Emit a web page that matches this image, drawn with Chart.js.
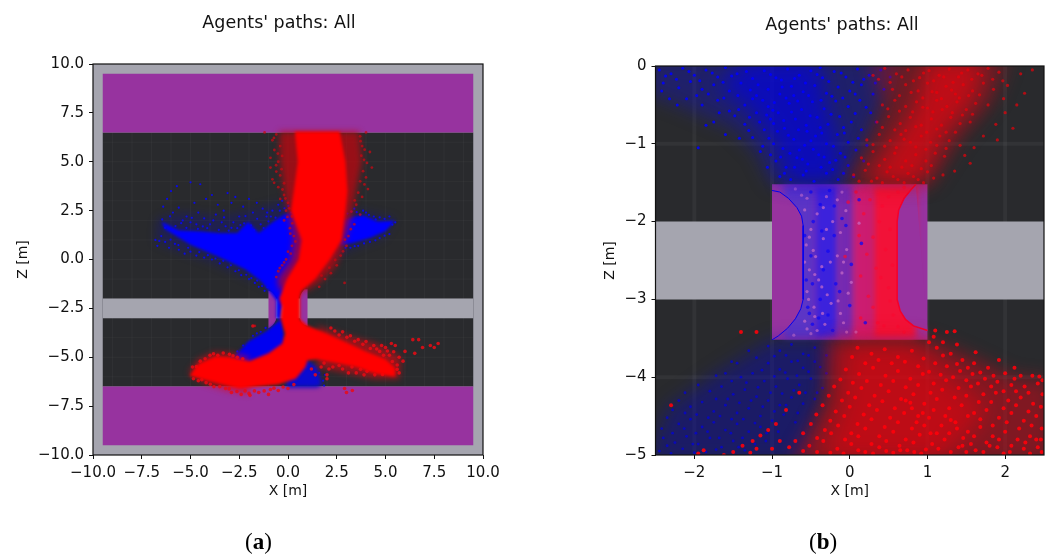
<!DOCTYPE html>
<html>
<head>
<meta charset="utf-8">
<title>Agents' paths</title>
<script src="https://cdn.jsdelivr.net/npm/chart.js@4"></script>
<style>
  html, body { margin: 0; padding: 0; background: #fff; }
  #page { position: relative; width: 1049px; height: 557px; overflow: hidden; }
  canvas { position: absolute; top: 0; }
  #chartA { left: 0; }
  #chartB { left: 525px; }
  .caption { position: absolute; top: 529px; font: 23px "Liberation Serif", serif; color: #000; }
  .caption b { font-weight: bold; }
</style>
</head>
<body>
<div id="page">
  <canvas id="chartA" width="558" height="557"></canvas>
  <canvas id="chartB" width="634" height="557"></canvas>
  <div class="caption" style="left:245px">(<b>a</b>)</div>
  <div class="caption" style="left:809px">(<b>b</b>)</div>
</div>
<script>
// Ticks
const xTicksA = [-10, -7.5, -5, -2.5, 0, 2.5, 5, 7.5, 10];
const zTicksA = [-10, -7.5, -5, -2.5, 0, 2.5, 5, 7.5, 10];
const tickLabelsA = ['\u221210.0', '\u22127.5', '\u22125.0', '\u22122.5', '0.0', '2.5', '5.0', '7.5', '10.0'];
const xTicksB = [-2, -1, 0, 1, 2];
const xLabelsB = ['\u22122', '\u22121', '0', '1', '2'];
const zTicksB = [-5, -4, -3, -2, -1, 0];
const zLabelsB = ['\u22125', '\u22124', '\u22123', '\u22122', '\u22121', '0'];

// Map geometry, metres: [x0, x1, z0, z1]
const floorA = [-9.5, 9.5, -6.5, 6.5];
const corridor = [-9.5, 9.5, -3, -2];
const goalTop = [-9.5, 9.5, 6.5, 9.5];
const goalBottom = [-9.5, 9.5, -9.5, -6.5];
const doorBox = [-1, 1, -3.52, -1.52];
const doorLeft = [[-1,-1.6],[-0.9,-1.62],[-0.79,-1.7],[-0.68,-1.82],[-0.62,-1.93],[-0.6,-2.05],[-0.6,-3],[-0.63,-3.12],[-0.7,-3.25],[-0.8,-3.37],[-0.92,-3.47],[-1,-3.52]];
const doorRight = [[0.85,-1.52],[0.78,-1.6],[0.7,-1.7],[0.63,-1.85],[0.61,-2],[0.61,-3],[0.65,-3.15],[0.72,-3.26],[0.82,-3.34],[1,-3.4],[1,-1.52]];
const gridA = [-9, -8, -7, -6, -5, -4, -3, -2, -1, 0, 1, 2, 3, 4, 5, 6, 7, 8, 9];
const gridXB = [-2, -1, 1, 2];
const gridZB = [-1, -4];

// Panel (a): dense bodies of the agents' tracks
const blueWingLeft = [[-6.5,1.95],[-5.6,1.5],[-4.5,1.45],[-3.5,1.35],[-2.6,1.35],[-2.05,1.95],[-1.5,1.35],[-0.8,1.9],[-0.2,2.3],[0.5,2.4],[1,1],[0.6,0],[0,-1.4],[-0.3,-2.6],[-0.35,-3.1],[-0.6,-3],[-0.6,-2.1],[-0.85,-1.75],[-1.4,-1.1],[-2.2,-0.5],[-3.6,0.15],[-5,0.75],[-6.3,1.55]];
const blueWingRight = [[2.7,2],[3.4,2.2],[3.9,2.25],[4.6,1.95],[5.5,2],[5,1.45],[4.2,1.1],[3.3,0.85],[2.6,0.7]];
const blueWingFuzz = [[-6.7,2.1],[-5.5,2.4],[-3.5,2.2],[-2,2.5],[-0.5,2.9],[1,3],[3,2.6],[3.6,2.5],[5.5,2.1],[4.9,1.1],[3.7,0.7],[2,0],[0,-2],[-1.2,-1.3],[-2.4,-0.8],[-4,-0.1],[-5.5,0.4],[-6.8,0.9]];
const blueWedge = [[-0.6,-3.25],[-0.3,-3],[-0.15,-4.4],[-1,-5],[-2.7,-5.6],[-2.7,-4.9],[-2.05,-4.2],[-1.1,-3.65]];
const blueBlob = [[0,-5.4],[0.9,-5.1],[1.5,-5.5],[1.75,-6.4],[1.5,-6.55],[-0.1,-6.55]];
const redHalo = [[-0.45,6.55],[3.65,6.55],[3.8,5],[3.5,3.5],[3.2,2],[2.8,0.5],[2.4,-0.4],[1.6,-1.2],[0.95,-1.6],[-0.4,-1.6],[-0.55,-1],[0.15,0],[0.3,1],[0,2.5],[-0.2,3.5],[-0.4,5]];
const redFanHaloLeft = [[-5.1,-5.8],[-4.6,-5.1],[-3.8,-4.75],[-2.8,-4.8],[-2,-5],[-2,-6.9],[-3.2,-6.7],[-4.4,-6.3]];
const redFanHaloRight = [[1.5,-3.4],[3,-3.9],[4.5,-4.3],[5.8,-5],[5.7,-6.1],[4.4,-6.1],[3,-5.8],[1.5,-5.5]];
const redCore = [[0.35,6.55],[2.65,6.55],[2.95,5],[3.05,3.5],[2.95,2.5],[2.75,1],[2.15,0],[1.4,-1],[0.7,-1.6],[0.62,-2],[0.62,-3.05],[1,-3.38],[2,-3.8],[3,-4.25],[4,-4.7],[5,-5.1],[5.5,-5.55],[5.5,-6],[4.5,-5.85],[3.5,-5.5],[2.5,-5.3],[1.5,-5.1],[1,-5.15],[0.9,-5.5],[0.4,-6.1],[-0.5,-6.4],[-1.5,-6.5],[-2.5,-6.6],[-3.5,-6.35],[-5.05,-5.95],[-4.6,-5.35],[-3.7,-4.95],[-3,-5],[-2,-5.2],[-1,-4.8],[-0.3,-4.3],[-0.15,-3.8],[-0.38,-3],[-0.32,-2.4],[-0.45,-2],[-0.25,-1.5],[-0.05,-1],[0.55,0],[0.7,1],[0.15,2.5],[0.3,3.5],[0.5,5]];

// Panel (a): loose points around those bodies
const blueLooseA = [[-6,3.5],[-5.7,3.75],[-5,3.95],[-4.5,3.85],[-6.2,3.1],[-6.4,2.7],[-5.9,2.4],[-5.6,2.65],[-5.2,2.2],[-4.8,2.9],[-4.6,2.4],[-4.2,3.1],[-3.9,3.3],[-3.6,2.8],[-3.3,2.5],[-3.1,3.4],[-2.9,2.9],[-2.7,3.2],[-2.5,2.2],[-2.3,2.7],[-2,3.1],[-1.8,2.4],[-1.6,2.9],[-1.3,2.6],[-1.1,2.2],[-0.8,2.5],[-0.5,2.8],[-0.3,3],[-5.4,2],[-5,1.9],[-4.7,1.8],[-4.3,2.1],[-4,1.8],[-3.7,2.3],[-3.4,1.9],[-3.2,1.7],[-2.8,1.9],[-2.6,1.6],[-2.25,1.85],[-1.9,1.75],[-1.4,1.8],[-1,1.95],[-6.8,1],[-6.7,0.7],[-6.5,1.2],[-6.3,0.9],[-6.1,0.6],[-5.8,0.8],[-5.6,0.5],[-5.3,0.3],[-5,0.4],[-4.7,0.2],[-4.3,0.1],[-3.9,0],[-3.5,-0.2],[-3.1,-0.4],[-2.7,-0.6],[-2.4,-0.8],[-2,-1],[-1.7,-1.2],[-1.5,-1.4],[-1.2,-1.6],[3.4,2.6],[3.7,2.3],[4,2.4],[4.4,2.2],[4.7,2.15],[5.2,2.2],[5.5,1.9],[5.2,1.3],[4.7,1.1],[4.2,0.9],[3.6,0.7],[3.2,0.6],[-0.7,-3.6],[-1.4,-3.7],[-1.8,-3.9],[-2.3,-4.4],[-2.6,-4.7],[-2.9,-5],[1.9,-5.9],[1.8,-6.2],[1.6,-5.8],[1.85,-6.45],[-6.45,2.05],[-6.3,1.62],[-6.05,2.21],[-5.77,1.71],[-5.48,1.86],[-5.21,1.62],[-4.93,2.13],[-4.62,1.57],[-4.37,1.69],[-4.14,1.6],[-3.83,2],[-3.55,1.52],[-3.28,2.15],[-3.04,1.48],[-2.9,1.62],[-2.44,1.76],[-2.18,2.22],[-1.75,1.5],[-1.58,2.08],[-1.25,1.61],[-1.07,2.4],[-0.88,2.2],[-0.64,2.14],[-0.42,2.5],[-0.18,2.62],[0.02,2.74],[0.15,2.4],[-6.6,0.95],[-6.02,1.02],[-5.62,0.74],[-5.12,0.6],[-4.55,0.38],[-4.11,0.22],[-3.72,0.05],[-3.32,-0.07],[-2.93,-0.3],[-2.52,-0.55],[-2.14,-0.78],[-1.88,-0.95],[-1.58,-1.08],[-1.33,-1.36],[-1.05,-1.42],[3.05,2.35],[3.25,2.45],[3.52,2.42],[3.85,2.5],[4.15,2.28],[4.5,2.05],[4.95,2.08],[5.35,1.78],[4.95,1.22],[4.48,0.98],[3.9,0.82],[3.42,0.68],[2.95,0.6],[-2.5,-4.95],[-2.1,-4.5],[-1.6,-3.78],[-1.15,-3.5],[-2.85,-5.2]];
const redHaloA = [[-0.6,6.4],[-0.8,6.1],[-1.2,6.5],[-0.7,5.6],[-0.4,5.8],[-0.9,5.2],[-0.5,5],[-0.3,5.3],[-0.9,4.7],[-0.6,4.5],[-0.8,4.1],[-0.4,4.3],[-0.5,3.7],[-0.2,3.9],[-0.2,3.3],[-0.4,3.1],[0,2.9],[-0.1,2.5],[0.2,2.2],[-0.2,2],[0.1,1.6],[0.3,1.2],[0.2,0.7],[0,0.4],[-0.1,0],[-0.3,-0.3],[-0.5,-0.6],[-0.6,-0.9],[3.7,6.3],[4,6.5],[3.8,5.8],[4.2,5.5],[3.9,5.1],[4.3,4.7],[4,4.2],[3.7,4],[4.1,3.6],[3.8,3.2],[3.5,2.8],[3.7,2.3],[3.4,1.8],[3.1,1.2],[3,0.7],[2.7,0.2],[2.5,-0.3],[2.2,-0.7],[1.9,-1],[1.6,-1.4],[2.9,-1.2],[-1.7,-3.4],[-0.72,6.22],[-0.52,5.42],[-0.61,4.82],[-0.33,4.62],[-0.71,3.92],[-0.28,3.58],[-0.13,3.12],[0.06,2.62],[-0.03,2.18],[0.22,1.85],[0.12,1.32],[0.38,0.92],[0.14,0.3],[-0.2,-0.15],[-0.42,-0.44],[3.72,6.05],[3.93,5.62],[3.76,5.31],[4.05,4.94],[3.85,4.52],[3.92,3.84],[3.6,3.42],[3.42,3.02],[3.25,2.45],[3.22,1.55],[2.92,1.02],[2.82,0.42],[2.42,-0.02],[2.12,-0.42],[1.72,-0.82]];
const redLooseA = [[7.7,-4.3],[7.3,-4.4],[7.5,-4.5],[6.7,-4.1],[6.4,-4.1],[6.9,-4.5],[6,-4.7],[6.5,-4.8],[5.9,-5.2],[5.7,-5],[5.5,-4.4],[5.3,-4.3],[5,-4.5],[4.8,-4.4],[4.4,-4.4],[4,-4.2],[3.6,-4.1],[3.2,-3.9],[2.8,-3.7],[2.2,-3.5],[5.6,-5.4],[5.7,-5.8],[5.2,-4.9],[4.7,-4.7],[4.2,-5.6],[3.9,-5.9],[3.5,-5.8],[3.1,-5.8],[2.8,-5.6],[2.3,-5.5],[2,-5.9],[2.1,-5.6],[1.7,-5.5],[1.2,-5.6],[1.4,-5.9],[2,-6.1],[2.9,-6.6],[3.3,-6.7],[3,-6.8],[-4.9,-5.5],[-4.5,-5.2],[-4,-4.9],[-3.6,-4.9],[-3,-4.85],[-2.6,-5],[-4.6,-6.2],[-4.2,-6.3],[-3.8,-6.5],[-3.2,-6.6],[-2.9,-6.8],[-2.4,-6.9],[-2,-6.85],[-1.5,-6.8],[-1,-6.9],[-0.5,-6.7],[0,-6.6],[0.3,-6.4],[-0.9,-6.65],[-1.8,-3.4],[5.42,-4.72],[5.1,-4.68],[4.9,-4.9],[4.55,-4.58],[4.22,-4.55],[3.84,-4.34],[3.42,-4.18],[3.02,-3.98],[2.62,-3.86],[2.4,-3.66],[5.35,-5.22],[5.6,-5.62],[4.85,-5.88],[4.45,-5.9],[4.05,-5.72],[3.72,-5.62],[3.28,-5.5],[2.62,-5.42],[1.85,-5.3],[-4.7,-5.48],[-4.25,-5.08],[-3.82,-4.82],[-3.32,-4.78],[-2.82,-4.92],[-2.32,-5.08],[-4.85,-6.1],[-4.42,-6.15],[-3.98,-6.38],[-3.5,-6.5],[-3.02,-6.62],[-2.62,-6.75],[-2.2,-6.72],[-1.72,-6.72],[-1.22,-6.72],[-0.72,-6.58],[-0.25,-6.52],[-1.95,-6.95]];

// Panel (b): density of tracks in the zoomed view
const blueCloudTop = [[-2.6,0.1],[0.6,0.1],[0.45,-0.4],[0.2,-1],[-0.05,-1.52],[-1,-1.52],[-1.2,-1.1],[-1.5,-0.8],[-2.2,-0.5],[-2.6,-0.35]];
const blueCloudTopCore = [[-1.3,0.1],[-0.4,0.1],[-0.3,-0.5],[-0.15,-1],[-0.15,-1.52],[-0.8,-1.52],[-0.95,-1],[-1.3,-0.55],[-1.7,-0.25]];
const redCloudTop = [[0.25,0.1],[2.05,0.1],[1.85,-0.45],[1.45,-0.9],[1.05,-1.52],[-0.05,-1.52],[0.25,-1],[0.45,-0.5]];
const redCloudTopCore = [[1,0.1],[1.75,0.1],[1.6,-0.45],[1.2,-0.9],[0.9,-1.52],[0.2,-1.52],[0.55,-1],[0.85,-0.5]];
const blueCloudBottom = [[-0.2,-3.52],[-1,-3.52],[-1.7,-3.95],[-2.35,-4.4],[-2.6,-5.1],[-0.6,-5.1],[-0.35,-4.2]];
const redCloudBottom = [[-0.3,-3.52],[1,-3.52],[1.5,-3.72],[2.1,-4],[2.6,-4.05],[2.6,-5.1],[-0.75,-5.1],[-0.3,-4.3]];
const redCloudBottomCore = [[-0.1,-3.55],[0.8,-3.55],[1.3,-4],[1.8,-4.4],[1.2,-5.1],[-0.4,-5.1],[-0.1,-4.3]];

// Panel (b): colour across the door, left to right [x0, x1]
const doorBands = [[-0.85,-0.45],[-0.45,-0.15],[-0.15,0.05],[0.05,0.3],[0.3,0.85]];

// Panel (b): individual dots
const blueTopB = [[-2.45,-0.05],[-2.3,-0.1],[-2.15,-0.03],[-2,-0.12],[-1.85,-0.05],[-1.7,-0.14],[-1.6,-0.02],[-1.45,-0.1],[-2.4,-0.22],[-2.2,-0.28],[-2.05,-0.2],[-1.9,-0.3],[-1.75,-0.24],[-1.55,-0.32],[-1.4,-0.22],[-1.25,-0.16],[-1.1,-0.06],[-0.95,-0.15],[-0.8,-0.04],[-0.65,-0.12],[-0.5,-0.06],[-0.35,-0.15],[-0.2,-0.07],[-0.05,-0.14],[0.1,-0.04],[0.25,-0.12],[0.4,-0.05],[-2.1,-0.42],[-1.9,-0.5],[-1.7,-0.44],[-1.55,-0.58],[-1.35,-0.5],[-1.2,-0.38],[-1.05,-0.3],[-0.9,-0.36],[-0.75,-0.26],[-0.6,-0.33],[-0.45,-0.25],[-0.3,-0.35],[-0.15,-0.27],[0,-0.32],[0.15,-0.24],[0.3,-0.36],[-1.85,-0.76],[-1.6,-0.88],[-1.95,-1.05],[-1.35,-0.75],[-1.2,-0.6],[-1.05,-0.52],[-0.92,-0.6],[-0.78,-0.48],[-0.62,-0.56],[-0.48,-0.46],[-0.33,-0.55],[-0.18,-0.45],[-0.02,-0.52],[0.13,-0.44],[0.27,-0.6],[-1.25,-0.92],[-1.1,-0.82],[-0.98,-0.74],[-0.84,-0.8],[-0.7,-0.68],[-0.56,-0.76],[-0.42,-0.66],[-0.28,-0.75],[-0.13,-0.65],[0.02,-0.72],[0.15,-0.82],[-1.15,-1.1],[-0.98,-1],[-0.86,-1.06],[-0.72,-0.94],[-0.58,-1.02],[-0.44,-0.9],[-0.3,-1],[-0.16,-0.88],[-0.02,-0.98],[0.08,-1.08],[-0.95,-1.22],[-0.82,-1.3],[-0.68,-1.18],[-0.54,-1.26],[-0.4,-1.14],[-0.26,-1.24],[-0.12,-1.12],[-0.02,-1.28],[-0.9,-1.42],[-0.76,-1.46],[-0.6,-1.4],[-0.46,-1.48],[-0.3,-1.38],[-0.15,-1.46],[-1.25,-0.42],[-1.02,-0.68],[-0.88,-0.18],[-0.72,-0.38],[-0.55,-0.84],[-1.48,-0.64],[-2.32,-0.42],[-2.42,-0.32],[-1.68,-0.6],[-0.38,-0.02],[-2.37,-0.13],[-2.23,-0.17],[-2.07,-0.07],[-1.93,-0.19],[-1.77,-0.09],[-1.63,-0.21],[-1.52,-0.13],[-1.33,-0.07],[-1.18,-0.24],[-1.02,-0.11],[-0.87,-0.27],[-0.71,-0.16],[-0.57,-0.22],[-0.42,-0.11],[-0.27,-0.2],[-0.11,-0.09],[0.04,-0.21],[0.18,-0.17],[0.33,-0.22],[-1.97,-0.38],[-1.82,-0.36],[-1.62,-0.41],[-1.44,-0.38],[-1.28,-0.31],[-1.12,-0.44],[-0.97,-0.47],[-0.82,-0.41],[-0.67,-0.45],[-0.53,-0.38],[-0.37,-0.44],[-0.23,-0.39],[-0.09,-0.41],[0.07,-0.36],[0.21,-0.53],[-1.43,-0.56],[-1.29,-0.66],[-1.16,-0.72],[-1.07,-0.63],[-0.99,-0.57],[-0.85,-0.7],[-0.75,-0.59],[-0.66,-0.82],[-0.51,-0.64],[-0.38,-0.79],[-0.24,-0.62],[-0.08,-0.79],[0.07,-0.61],[-1.3,-0.83],[-1.04,-0.93],[-0.93,-0.84],[-0.79,-0.89],[-0.65,-1.08],[-0.5,-0.96],[-0.36,-0.86],[-0.21,-1.03],[-0.07,-0.86],[0.11,-0.93],[-1.02,-1.14],[-0.89,-1.17],[-0.77,-1.12],[-0.61,-1.2],[-0.47,-1.07],[-0.33,-1.17],[-0.18,-1.21],[-0.06,-1.17],[-0.84,-1.38],[-0.71,-1.3],[-0.56,-1.35],[-0.37,-1.3],[-0.22,-1.33],[-0.08,-1.38],[-1.06,-1.3],[-1.12,-1.03],[-1.42,-0.93],[-1.75,-0.72],[-2.22,-0.5],[0.34,-0.72],[0.22,-1.02],[0.18,-1.22],[0.05,-1.42],[0.44,-0.3],[0.52,-0.14]];
const redTopB = [[0.3,-0.12],[0.45,-0.03],[0.6,-0.1],[0.75,-0.05],[0.9,-0.15],[1.02,-0.06],[1.15,-0.12],[1.28,-0.04],[1.4,-0.14],[1.52,-0.05],[1.65,-0.1],[1.78,-0.03],[1.92,-0.08],[2.2,-0.1],[2.35,-0.05],[0.55,-0.3],[0.72,-0.24],[0.88,-0.32],[1,-0.22],[1.12,-0.34],[1.24,-0.26],[1.36,-0.36],[1.46,-0.24],[1.58,-0.32],[1.72,-0.22],[1.85,-0.3],[2.25,-0.35],[0.42,-0.5],[0.58,-0.44],[0.72,-0.52],[0.86,-0.46],[1,-0.54],[1.12,-0.44],[1.25,-0.52],[1.38,-0.46],[1.5,-0.56],[1.62,-0.48],[1.78,-0.5],[0.35,-0.72],[0.5,-0.65],[0.65,-0.74],[0.78,-0.66],[0.92,-0.76],[1.05,-0.68],[1.18,-0.76],[1.3,-0.66],[1.42,-0.74],[1.55,-0.72],[0.22,-0.95],[0.38,-0.88],[0.52,-0.96],[0.66,-0.88],[0.78,-0.98],[0.92,-0.9],[1.04,-0.98],[1.16,-0.9],[1.28,-0.96],[1.42,-1.02],[0.15,-1.18],[0.3,-1.1],[0.45,-1.2],[0.58,-1.12],[0.72,-1.22],[0.85,-1.14],[0.98,-1.22],[1.1,-1.12],[1.22,-1.16],[0.05,-1.4],[0.2,-1.34],[0.35,-1.44],[0.48,-1.36],[0.62,-1.46],[0.75,-1.38],[0.88,-1.46],[1,-1.36],[1.08,-1.44],[1.2,-1.4],[2,-0.6],[2.1,-0.8],[1.9,-0.95],[1.72,-0.9],[1.55,-1.25],[1.35,-1.35],[0.37,-0.17],[0.52,-0.21],[0.67,-0.14],[0.82,-0.19],[0.95,-0.09],[1.08,-0.19],[1.21,-0.14],[1.33,-0.21],[1.44,-0.09],[1.57,-0.17],[1.7,-0.12],[1.84,-0.17],[1.97,-0.19],[0.64,-0.38],[0.79,-0.34],[0.94,-0.41],[1.06,-0.33],[1.18,-0.42],[1.31,-0.31],[1.41,-0.41],[1.53,-0.38],[1.67,-0.37],[0.49,-0.55],[0.64,-0.58],[0.81,-0.59],[0.94,-0.53],[1.07,-0.59],[1.19,-0.56],[1.32,-0.6],[1.45,-0.63],[1.58,-0.62],[0.42,-0.79],[0.58,-0.82],[0.72,-0.83],[0.85,-0.78],[0.99,-0.85],[1.12,-0.81],[1.24,-0.85],[1.36,-0.85],[0.3,-1.01],[0.45,-1.03],[0.6,-1.05],[0.7,-0.94],[0.85,-1.04],[0.98,-1.07],[1.12,-1.02],[1.24,-1.06],[0.24,-1.26],[0.38,-1.28],[0.52,-1.3],[0.67,-1.3],[0.8,-1.28],[0.92,-1.32],[1.05,-1.28],[0.12,-1.48],[0.28,-1.48],[0.42,-1.5],[0.56,-1.42],[0.7,-1.5],[0.82,-1.42],[0.95,-1.5],[2.03,-0.25],[2.15,-0.5],[1.98,-0.42],[1.88,-0.75],[1.6,-1.05],[1.48,-1.15]];
const blueBottomB = [[-1.05,-3.6],[-0.9,-3.66],[-0.75,-3.58],[-0.6,-3.7],[-0.45,-3.62],[-0.3,-3.72],[-1.2,-3.75],[-1.05,-3.82],[-0.9,-3.9],[-0.75,-3.8],[-0.6,-3.88],[-0.45,-3.8],[-0.3,-3.95],[-1.45,-3.82],[-1.6,-3.95],[-1.4,-4],[-1.25,-3.95],[-1.1,-4.05],[-0.95,-4.12],[-0.8,-4.02],[-0.65,-4.1],[-0.5,-4.02],[-0.35,-4.14],[-1.95,-4.1],[-1.8,-4.18],[-1.65,-4.12],[-1.5,-4.22],[-1.35,-4.16],[-1.2,-4.25],[-1.05,-4.3],[-0.9,-4.36],[-0.75,-4.26],[-0.6,-4.34],[-0.45,-4.28],[-2.2,-4.3],[-2.05,-4.38],[-1.9,-4.32],[-1.75,-4.44],[-1.6,-4.36],[-1.45,-4.46],[-1.3,-4.4],[-1.15,-4.5],[-1,-4.56],[-0.85,-4.48],[-0.7,-4.58],[-2.35,-4.52],[-2.2,-4.6],[-2.05,-4.54],[-1.9,-4.64],[-1.75,-4.58],[-1.6,-4.68],[-1.45,-4.6],[-1.3,-4.7],[-1.15,-4.64],[-2.4,-4.78],[-2.25,-4.84],[-2.1,-4.76],[-1.95,-4.86],[-1.8,-4.78],[-1.65,-4.9],[-1.5,-4.82],[-1.35,-4.94],[-2.45,-4.95],[-2.3,-4.98],[-2.15,-4.92],[-2,-4.97],[-1.85,-4.96],[-0.97,-3.73],[-0.82,-3.72],[-0.67,-3.79],[-0.53,-3.72],[-0.38,-3.87],[-1.13,-3.91],[-0.97,-3.99],[-0.83,-3.94],[-0.68,-3.98],[-0.53,-3.93],[-1.52,-4.05],[-1.33,-4.07],[-1.18,-4.13],[-1.02,-4.2],[-0.87,-4.21],[-0.72,-4.17],[-0.57,-4.2],[-0.42,-4.2],[-1.72,-4.28],[-1.57,-4.28],[-1.42,-4.33],[-1.27,-4.3],[-1.12,-4.38],[-0.97,-4.44],[-0.82,-4.36],[-0.67,-4.46],[-2.12,-4.46],[-1.97,-4.48],[-1.82,-4.52],[-1.67,-4.5],[-1.52,-4.54],[-1.37,-4.54],[-1.22,-4.59],[-1.07,-4.72],[-0.92,-4.7],[-2.28,-4.72],[-2.13,-4.66],[-1.98,-4.72],[-1.83,-4.7],[-1.68,-4.78],[-1.53,-4.72],[-1.38,-4.78],[-1.22,-4.86],[-1.08,-4.82],[-2.35,-4.88],[-2.02,-4.86],[-1.72,-4.93],[-1.43,-4.9],[-2.42,-4.66],[-2.28,-4.42],[-2.12,-4.2],[-1.72,-3.98],[-1.52,-3.8],[-1.3,-3.66]];
const redBottomB = [[1.1,-3.4],[1.25,-3.42],[1.35,-3.41],[-1.4,-3.42],[-1.2,-3.42],[1.02,-3.55],[1.12,-3.62],[1.3,-3.7],[1.45,-3.78],[1.6,-3.82],[1.78,-3.88],[2,-3.95],[2.2,-3.98],[2.35,-3.98],[0.1,-3.62],[0.28,-3.7],[0.45,-3.64],[0.62,-3.74],[0.8,-3.66],[0.95,-3.76],[1.1,-3.82],[1.25,-3.86],[1.42,-3.92],[1.58,-3.96],[1.74,-4.02],[1.9,-4.06],[2.08,-4.1],[2.25,-4.12],[2.42,-4.08],[-0.05,-3.9],[0.12,-3.96],[0.3,-3.88],[0.46,-3.98],[0.62,-3.92],[0.78,-4.02],[0.94,-3.96],[1.08,-4.08],[1.24,-4.04],[1.4,-4.14],[1.56,-4.12],[1.72,-4.22],[1.88,-4.2],[2.04,-4.3],[2.2,-4.26],[2.36,-4.34],[2.48,-4.22],[-0.2,-4.12],[-0.02,-4.2],[0.15,-4.14],[0.32,-4.24],[0.5,-4.18],[0.66,-4.28],[0.82,-4.22],[0.96,-4.34],[1.12,-4.28],[1.28,-4.4],[1.44,-4.36],[1.6,-4.46],[1.76,-4.42],[1.92,-4.52],[2.08,-4.46],[2.24,-4.56],[2.4,-4.5],[-0.35,-4.36],[-0.18,-4.44],[0,-4.38],[0.18,-4.48],[0.35,-4.42],[0.52,-4.52],[0.7,-4.46],[0.86,-4.58],[1.02,-4.52],[1.18,-4.62],[1.36,-4.58],[1.52,-4.7],[1.68,-4.64],[1.84,-4.76],[2,-4.7],[2.16,-4.8],[2.32,-4.76],[2.47,-4.66],[-0.5,-4.6],[-0.32,-4.68],[-0.15,-4.62],[0.02,-4.72],[0.2,-4.66],[0.38,-4.76],[0.56,-4.7],[0.72,-4.8],[0.9,-4.74],[1.06,-4.86],[1.22,-4.8],[1.4,-4.9],[1.56,-4.86],[1.72,-4.96],[1.9,-4.9],[2.06,-4.96],[2.24,-4.92],[2.42,-4.9],[-0.7,-4.82],[-0.52,-4.88],[-0.34,-4.82],[-0.16,-4.92],[0.02,-4.86],[0.2,-4.96],[0.38,-4.9],[0.56,-4.97],[0.74,-4.94],[0.92,-4.98],[1.3,-4.55],[1.38,-4.66],[1.46,-4.78],[0.72,-4.3],[0.8,-4.4],[0.88,-4.5],[0.96,-4.62],[1.04,-4.72],[1.45,-4.88],[1.5,-4.96],[-0.95,-4.6],[-1.05,-4.68],[-1.15,-4.75],[-1.25,-4.82],[-1.38,-4.88],[-1.5,-4.96],[-1.62,-5],[-1.88,-4.94],[-1.95,-4.98],[-0.82,-4.42],[-0.65,-4.2],[-0.9,-4.82],[-0.78,-4.9],[-2.3,-4.36],[1.2,-3.72],[1.38,-3.83],[1.52,-3.88],[1.68,-3.94],[1.85,-3.98],[2.12,-4.02],[2.44,-3.99],[0.03,-3.74],[0.2,-3.82],[0.37,-3.78],[0.54,-3.82],[0.71,-3.8],[0.88,-3.86],[1.02,-3.93],[1.17,-3.97],[1.33,-4],[1.5,-4.04],[1.65,-4.08],[1.82,-4.12],[1.98,-4.18],[2.14,-4.18],[2.3,-4.2],[-0.12,-4.03],[0.04,-4.07],[0.22,-4.05],[0.4,-4.1],[0.56,-4.05],[0.72,-4.13],[0.88,-4.1],[1.04,-4.2],[1.19,-4.16],[1.35,-4.26],[1.5,-4.24],[1.66,-4.32],[1.82,-4.32],[1.98,-4.4],[2.14,-4.36],[2.3,-4.44],[2.46,-4.38],[-0.27,-4.24],[-0.1,-4.3],[0.07,-4.26],[0.25,-4.36],[0.42,-4.31],[0.58,-4.4],[0.78,-4.33],[0.94,-4.46],[1.08,-4.42],[1.23,-4.5],[1.52,-4.5],[1.68,-4.54],[1.84,-4.62],[2.02,-4.58],[2.18,-4.66],[2.34,-4.62],[-0.43,-4.48],[-0.25,-4.56],[-0.07,-4.5],[0.1,-4.6],[0.28,-4.54],[0.45,-4.64],[0.62,-4.58],[0.8,-4.66],[1.12,-4.72],[1.28,-4.72],[1.6,-4.76],[1.76,-4.84],[1.92,-4.8],[2.08,-4.88],[2.26,-4.84],[2.4,-4.8],[-0.6,-4.72],[-0.42,-4.78],[-0.24,-4.72],[-0.06,-4.8],[0.11,-4.76],[0.28,-4.86],[0.47,-4.82],[0.64,-4.88],[0.82,-4.84],[0.98,-4.93],[1.14,-4.92],[1.3,-4.96],[1.62,-4.94],[1.8,-4.88],[1.98,-4.98],[2.32,-4.98],[-0.6,-4.95],[-0.42,-4.96],[-0.25,-4.97],[-0.08,-4.98],[0.11,-4.94],[0.3,-4.98],[0.47,-4.95],[0.65,-4.94],[0.83,-4.96],[-1,-4.92],[-1.2,-4.92],[-1.28,-4.97],[2.48,-4.04],[2.46,-4.8],[2.47,-4.96],[1.08,-3.48],[1.2,-3.55],[1.38,-3.58],[1.62,-3.68],[1.92,-3.78],[2.12,-3.88]];
const doorSpecks = [[-0.55,-1.7],[-0.42,-1.9],[-0.5,-2.1],[-0.56,-2.3],[-0.44,-2.45],[-0.52,-2.62],[-0.4,-2.75],[-0.55,-2.9],[-0.46,-3.1],[-0.58,-3.28],[-0.42,-3.4],[-0.3,-1.68],[-0.22,-2],[-0.34,-2.22],[-0.25,-2.52],[-0.36,-2.84],[-0.24,-3.05],[-0.32,-3.32],[-0.1,-1.62],[-0.05,-1.86],[-0.12,-2.14],[-0.04,-2.36],[-0.1,-2.66],[-0.02,-2.92],[-0.12,-3.18],[-0.04,-3.42],[-0.7,-1.58],[-0.5,-3.44],[-0.72,-3.46],[-0.58,-1.85],[-0.52,-2.2],[-0.47,-2.37],[-0.58,-2.52],[-0.45,-2.68],[-0.53,-3],[-0.45,-3.22],[-0.55,-3.38],[-0.34,-1.82],[-0.3,-2.1],[-0.36,-2.58],[-0.29,-2.94],[-0.35,-3.18],[-0.16,-1.72],[-0.16,-2.44],[-0.08,-2.52],[-0.15,-3.02],[-0.08,-3.3],[-0.62,-1.66],[0.12,-2.02],[0.02,-2.78],[0.08,-3.42]];
const doorBlueSpecks = [[-0.5,-1.62],[-0.38,-1.78],[-0.47,-2],[-0.36,-2.12],[-0.5,-2.44],[-0.34,-2.62],[-0.48,-2.8],[-0.38,-3],[-0.52,-3.18],[-0.4,-3.24],[-0.2,-1.8],[-0.28,-2.38],[-0.18,-2.8],[-0.28,-3.2],[-0.05,-2.05],[0.02,-2.55],[0,-3.08],[0.12,-1.72],[0.15,-2.28],[0.2,-3.3],[-0.58,-2.18],[-0.56,-2.75],[-0.54,-3.1],[-0.48,-3.32],[-0.26,-1.6],[-0.2,-2.18],[-0.22,-3.4],[-0.1,-1.96],[-0.13,-2.9]];
const doorRedSpecks = [[0.08,-1.62],[0.18,-1.9],[0.12,-2.18],[0.22,-2.42],[0.14,-2.7],[0.24,-2.96],[0.14,-3.24],[0.26,-1.72],[0.3,-2.2],[0.34,-2.6],[0.3,-3.1],[0.42,-1.8],[0.46,-2.36],[0.5,-2.85],[0.44,-3.34],[0.56,-3.2],[0.7,-3.42],[-0.02,-1.75],[-0.06,-2.45],[0.38,-2],[0.52,-2.1],[0.4,-2.72],[0.55,-2.56],[0.36,-3.3],[0.52,-3.02],[0.62,-3.35],[0.5,-1.68],[0.62,-1.62],[0.7,-1.56]];

function rectPts(r) {
  return [[r[0], r[2]], [r[1], r[2]], [r[1], r[3]], [r[0], r[3]]];
}

function area(pts, color, soft, line, width) {
  return {
    data: pts.map(p => ({ x: p[0], y: p[1] })),
    showLine: true,
    fill: 'shape',
    soft: soft || 0,
    backgroundColor: color,
    borderColor: line || 'transparent',
    borderWidth: width || 0,
    pointRadius: 0,
    tension: 0
  };
}

function dots(pts, color, radius) {
  return {
    data: pts.map(p => ({ x: p[0], y: p[1] })),
    showLine: false,
    backgroundColor: color,
    borderWidth: 0,
    pointRadius: radius,
    pointHoverRadius: radius
  };
}

function gridLine(a, b, width, color) {
  return {
    data: [{ x: a[0], y: a[1] }, { x: b[0], y: b[1] }],
    showLine: true,
    fill: false,
    borderColor: color,
    borderWidth: width,
    pointRadius: 0
  };
}

// painter's order: first in the list ends up at the bottom
function stack(list) {
  list.forEach((d, i) => { d.order = list.length - i; });
  return list;
}

const GREY = '#a5a5af', DARK = '#292a2d', PURPLE = '#97339f';

// the original plots are upscaled rasters, so every layer gets a little blur.
// filler paints inside beforeDatasetDraw, so the filter has to be set after the previous layer
function blurFor(d) {
  return d && d.soft ? 'blur(' + d.soft + 'px)' : 'blur(0.4px)';
}
const softMarks = {
  id: 'softMarks',
  beforeDatasetsDraw(chart) { chart.ctx.filter = blurFor(chart.data.datasets[0]); },
  afterDatasetDraw(chart, args) { chart.ctx.filter = blurFor(chart.data.datasets[args.index + 1]); },
  afterDatasetsDraw(chart) { chart.ctx.filter = 'none'; }
};

const frame = {
  id: 'frame',
  afterDraw(chart) {
    const a = chart.chartArea, ctx = chart.ctx;
    ctx.save();
    ctx.strokeStyle = '#111';
    ctx.lineWidth = 1.2;
    ctx.strokeRect(a.left, a.top, a.right - a.left, a.bottom - a.top);
    ctx.restore();
  }
};

function axis(min, max, ticks, labels, title, size, titleOffset) {
  return {
    type: 'linear',
    min: min,
    max: max,
    afterBuildTicks(scale) { scale.ticks = ticks.map(v => ({ value: v })); },
    afterFit(scale) {
      if (scale.isHorizontal()) scale.height = size; else scale.width = size;
    },
    ticks: {
      autoSkip: false,
      maxRotation: 0,
      color: '#111',
      padding: 5,
      font: { size: 15 },
      callback: (v, i) => labels[i]
    },
    grid: { drawOnChartArea: false, drawTicks: true, tickLength: 4, tickColor: '#111', tickWidth: 1 },
    border: { display: false },
    title: { display: true, text: title, color: '#111', font: { size: 14 }, padding: { top: titleOffset, bottom: 3 } }
  };
}

// empty axis on the right: it keeps the plot where it belongs, while the title stays centred on the canvas
function spacer(size) {
  return {
    type: 'linear',
    position: 'right',
    display: true,
    min: 0,
    max: 1,
    afterFit(scale) { scale.width = size; },
    ticks: { display: false },
    grid: { display: false },
    border: { display: false }
  };
}

function makeChart(id, layers, xAxis, yAxis, rightSize, titleTop, titleBottom) {
  return new Chart(document.getElementById(id).getContext('2d'), {
    type: 'scatter',
    data: { datasets: stack(layers) },
    options: {
      responsive: false,
      animation: false,
      events: [],
      layout: { padding: { left: 0, right: 0, top: 0, bottom: 54 } },
      scales: { x: xAxis, y: yAxis, gap: spacer(rightSize) },
      plugins: {
        legend: { display: false },
        tooltip: { enabled: false },
        title: {
          display: true,
          text: "Agents' paths: All",
          color: '#111',
          font: { size: 17.5, weight: 'normal' },
          padding: { top: titleTop, bottom: titleBottom }
        }
      }
    },
    plugins: [softMarks, frame]
  });
}

Chart.defaults.font.family = '"DejaVu Sans", sans-serif';

const layersA = [
  area(rectPts([-10, 10, -10, 10]), GREY),
  area(rectPts(floorA), DARK)
];
gridA.forEach(v => {
  layersA.push(gridLine([v, -6.5], [v, 6.5], 1, 'rgba(255,255,255,0.03)'));
  layersA.push(gridLine([-9.5, v], [9.5, v], 1, 'rgba(255,255,255,0.03)'));
});
layersA.push(
  area(rectPts(corridor), GREY),
  area(rectPts(goalTop), PURPLE),
  area(rectPts(goalBottom), PURPLE),
  area(doorLeft, PURPLE),
  area(doorRight, PURPLE),
  area(blueWingFuzz, 'rgba(0,0,200,0.22)', 5),
  dots(blueLooseA, '#0a0ae6', 1.1),
  area(blueWingLeft, '#0000ff', 1.4),
  area(blueWingRight, '#0000ff', 1.4),
  area(blueWedge, '#0000f0', 1.4),
  area(blueBlob, '#0a0ad2', 2),
  dots(redHaloA, 'rgba(200,10,20,0.75)', 1.4),
  area(redHalo, 'rgba(195,5,15,0.72)', 3),
  area(redFanHaloLeft, 'rgba(225,5,15,0.6)', 3),
  area(redFanHaloRight, 'rgba(225,5,15,0.6)', 3),
  dots(redLooseA, 'rgba(235,10,20,0.85)', 1.8),
  area(redCore, '#ff0000', 1.6)
);

const layersB = [
  area(rectPts([-2.5, 2.5, -5, 0]), DARK)
];
gridXB.forEach(v => layersB.push(gridLine([v, -5], [v, 0], 4, 'rgba(255,255,255,0.045)')));
gridZB.forEach(v => layersB.push(gridLine([-2.5, v], [2.5, v], 4, 'rgba(255,255,255,0.045)')));
layersB.push(
  area(rectPts([-2.5, 2.5, corridor[2], corridor[3]]), GREY),
  area(rectPts(doorBox), PURPLE)
);
const bandColors = ['#5c35c6', '#3c22dc', '#7429b2', '#cc1c70', '#f21238'];
doorBands.forEach((b, i) => layersB.push(area(rectPts([b[0], b[1], doorBox[2] + 0.03, doorBox[3] - 0.03]), bandColors[i], 3)));
layersB.push(
  dots(doorSpecks, 'rgba(200,110,200,0.7)', 1.6),
  dots(doorBlueSpecks, 'rgba(20,10,240,0.8)', 1.8),
  dots(doorRedSpecks, 'rgba(250,10,50,0.7)', 1.8),
  area(doorLeft, PURPLE, 0, '#0000f0', 1),
  area(doorRight.slice(0, -1), PURPLE, 0, '#f4002a', 1.5),
  area(blueCloudTop, 'rgba(20,20,190,0.42)', 9),
  area(blueCloudTopCore, 'rgba(0,0,235,0.6)', 10),
  area(blueCloudBottom, 'rgba(10,10,170,0.46)', 9),
  dots(blueTopB, 'rgba(0,0,255,0.9)', 1.5),
  dots(blueBottomB, 'rgba(0,0,225,0.7)', 1.4),
  area(redCloudTop, 'rgba(170,15,30,0.5)', 9),
  area(redCloudTopCore, 'rgba(235,5,15,0.65)', 10),
  dots(redTopB, 'rgba(235,0,10,0.7)', 1.6),
  area(redCloudBottom, 'rgba(200,10,25,0.55)', 9),
  area(redCloudBottomCore, 'rgba(250,0,10,0.5)', 12),
  dots(redBottomB, 'rgba(255,0,10,0.9)', 2)
);

makeChart('chartA', layersA,
  axis(-10, 10, xTicksA, tickLabelsA, 'X [m]', 48, 3),
  axis(-10, 10, zTicksA, tickLabelsA, 'Z [m]', 93, 15),
  75, 13, 30);

makeChart('chartB', layersB,
  axis(-2.5, 2.5, xTicksB, xLabelsB, 'X [m]', 48, 3),
  axis(-5, 0, zTicksB, zLabelsB, 'Z [m]', 130.5, 77),
  115, 15, 30);
</script>
</body>
</html>
